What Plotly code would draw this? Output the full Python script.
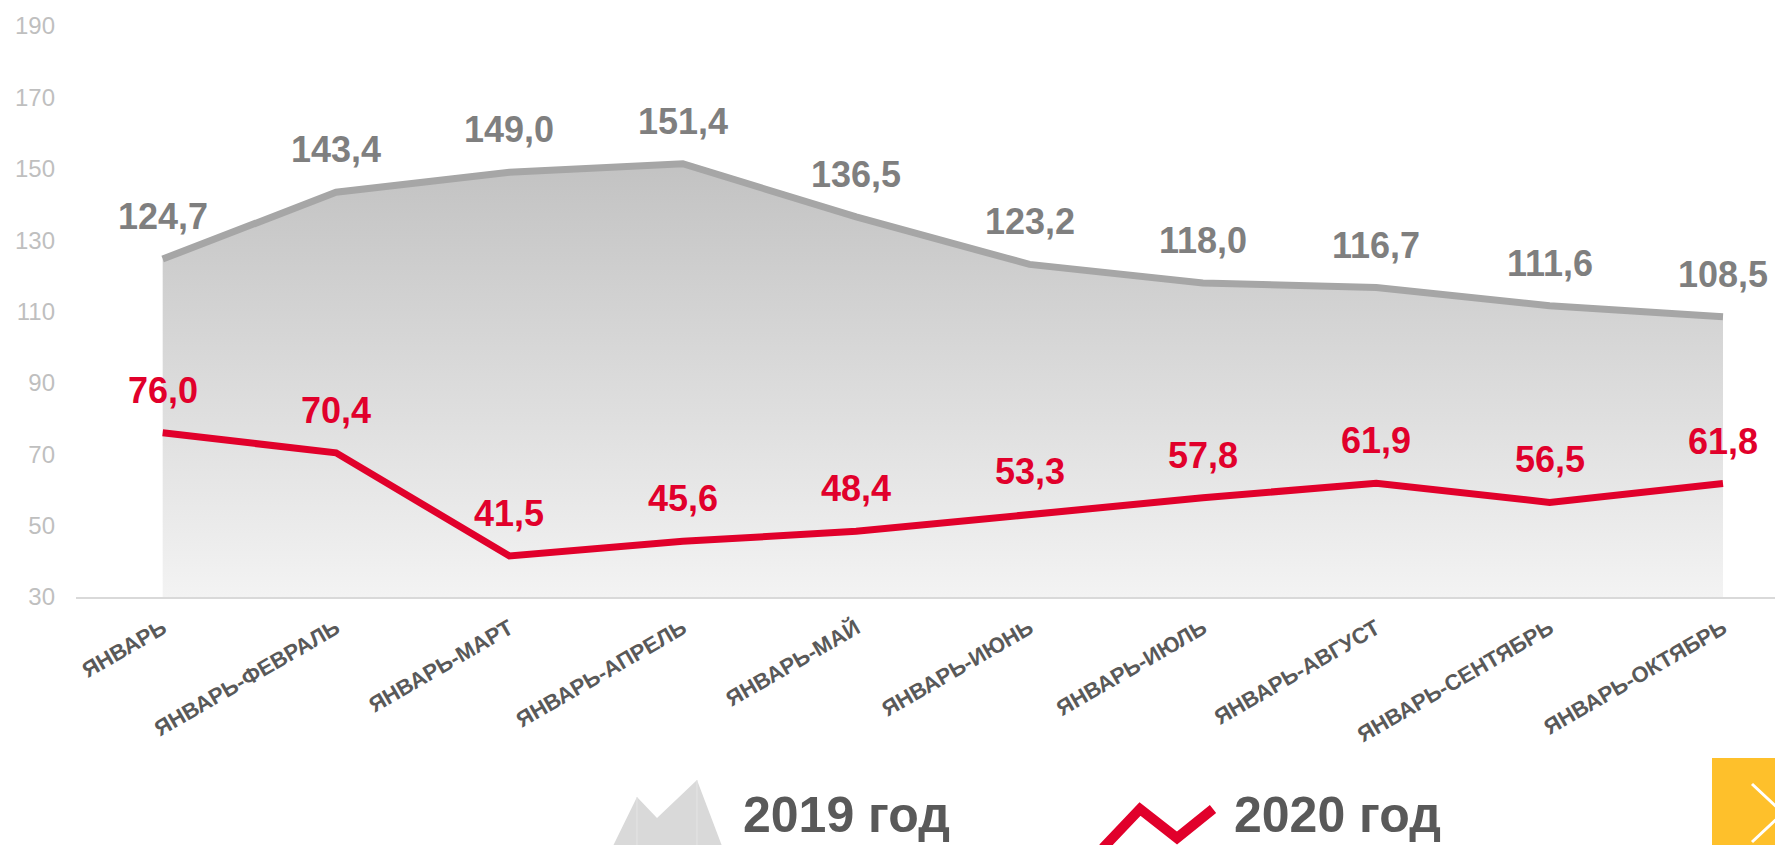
import plotly.graph_objects as go

# ---------------- data ----------------
categories = ["ЯНВАРЬ", "ЯНВАРЬ-ФЕВРАЛЬ", "ЯНВАРЬ-МАРТ", "ЯНВАРЬ-АПРЕЛЬ", "ЯНВАРЬ-МАЙ",
              "ЯНВАРЬ-ИЮНЬ", "ЯНВАРЬ-ИЮЛЬ", "ЯНВАРЬ-АВГУСТ", "ЯНВАРЬ-СЕНТЯБРЬ", "ЯНВАРЬ-ОКТЯБРЬ"]
values_2019 = [124.7, 143.4, 149.0, 151.4, 136.5, 123.2, 118.0, 116.7, 111.6, 108.5]
values_2020 = [76.0, 70.4, 41.5, 45.6, 48.4, 53.3, 57.8, 61.9, 56.5, 61.8]
series_names = ["2019 год", "2020 год"]
y_ticks = [30, 50, 70, 90, 110, 130, 150, 170, 190]

# ---------------- style ----------------
W, H = 1775, 845
ML, MR, MT, MB = 76, 0, 26, 248
PW, PH = W - ML - MR, H - MT - MB
FONT = "Liberation Sans, Arial, sans-serif"
GRAY_LINE = "#a6a6a6"
GRAY_TEXT = "#7f7f7f"
RED = "#e1002b"
DARK = "#595959"


def px(x):
    return (x - ML) / PW


def py(y):
    return (H - MB - y) / PH


def fmt(v):
    return f"{v:.1f}".replace(".", ",")


fig = go.Figure()

fig.add_trace(go.Scatter(
    x=categories, y=values_2019, name=series_names[0], mode="lines",
    line=dict(color=GRAY_LINE, width=7),
    fill="tozeroy",
    fillgradient=dict(type="vertical", colorscale=[[0, "#f3f3f3"], [1, "#c2c2c2"]],
                      start=30, stop=152),
    hoverinfo="skip", showlegend=False,
))
fig.add_trace(go.Scatter(
    x=categories, y=values_2020, name=series_names[1], mode="lines",
    line=dict(color=RED, width=7),
    hoverinfo="skip", showlegend=False,
))

annotations = []
for c, v in zip(categories, values_2019):
    annotations.append(dict(x=c, y=v, xref="x", yref="y", text=fmt(v), showarrow=False,
                            yanchor="bottom", yshift=20,
                            font=dict(family=FONT, size=36, color=GRAY_TEXT, weight="bold")))
for c, v in zip(categories, values_2020):
    annotations.append(dict(x=c, y=v, xref="x", yref="y", text=fmt(v), showarrow=False,
                            yanchor="bottom", yshift=20,
                            font=dict(family=FONT, size=36, color=RED, weight="bold")))

# custom legend (texts kept inside the page)
annotations.append(dict(x=px(741), y=py(845), xref="paper", yref="paper", text=series_names[0],
                        showarrow=False, xanchor="left", yanchor="bottom",
                        font=dict(family=FONT, size=50, color=DARK, weight="bold")))
annotations.append(dict(x=px(1232), y=py(845), xref="paper", yref="paper", text=series_names[1],
                        showarrow=False, xanchor="left", yanchor="bottom",
                        font=dict(family=FONT, size=50, color=DARK, weight="bold")))

shapes = []
# 2019 legend icon (mountain)
mountain = [(613, 846), (637, 797), (657, 818), (697, 780), (722, 846)]
path = "M " + " L ".join(f"{px(a):.5f},{py(b):.5f}" for a, b in mountain) + " Z"
shapes.append(dict(type="path", xref="paper", yref="paper", path=path,
                   fillcolor="#d9d9d9", line=dict(width=0)))
for xa, ya in [(637, 797), (697, 780)]:
    shapes.append(dict(type="line", xref="paper", yref="paper",
                       x0=px(xa), x1=px(xa), y0=py(ya), y1=py(846),
                       line=dict(color="#e4e4e4", width=1)))
# 2020 legend icon (zigzag)
zig = [(1103, 848), (1140, 809), (1177, 838), (1213, 809)]
path = "M " + " L ".join(f"{px(a):.5f},{py(b):.5f}" for a, b in zig)
shapes.append(dict(type="path", xref="paper", yref="paper", path=path,
                   line=dict(color=RED, width=10)))
# yellow navigation box
shapes.append(dict(type="rect", xref="paper", yref="paper",
                   x0=px(1712), x1=px(1780), y0=py(758), y1=py(850),
                   fillcolor="#fec02b", line=dict(width=0)))
chev = [(1752, 784), (1783, 813), (1752, 842)]
path = "M " + " L ".join(f"{px(a):.5f},{py(b):.5f}" for a, b in chev)
shapes.append(dict(type="path", xref="paper", yref="paper", path=path,
                   line=dict(color="white", width=3)))

fig.update_layout(
    width=W, height=H, autosize=False,
    margin=dict(l=ML, r=MR, t=MT, b=MB, pad=0),
    paper_bgcolor="white", plot_bgcolor="white",
    showlegend=False,
    annotations=annotations, shapes=shapes,
    xaxis=dict(type="category", range=[-0.5, 9.3], showgrid=False, zeroline=False,
               showline=True, linecolor="#d9d9d9", linewidth=2, ticks="",
               tickangle=-30, ticklabelstandoff=8,
               tickfont=dict(family=FONT, size=22, color=DARK, weight="bold")),
    yaxis=dict(range=[30, 190], tickvals=y_ticks, showgrid=False, zeroline=False,
               showline=False, ticks="", ticklabelstandoff=20,
               tickfont=dict(family=FONT, size=24, color="#bfbfbf")),
)

fig.write_html("out.html", config={"displayModeBar": False},
               post_script="document.body.style.margin='0';document.body.style.overflow='hidden';")
